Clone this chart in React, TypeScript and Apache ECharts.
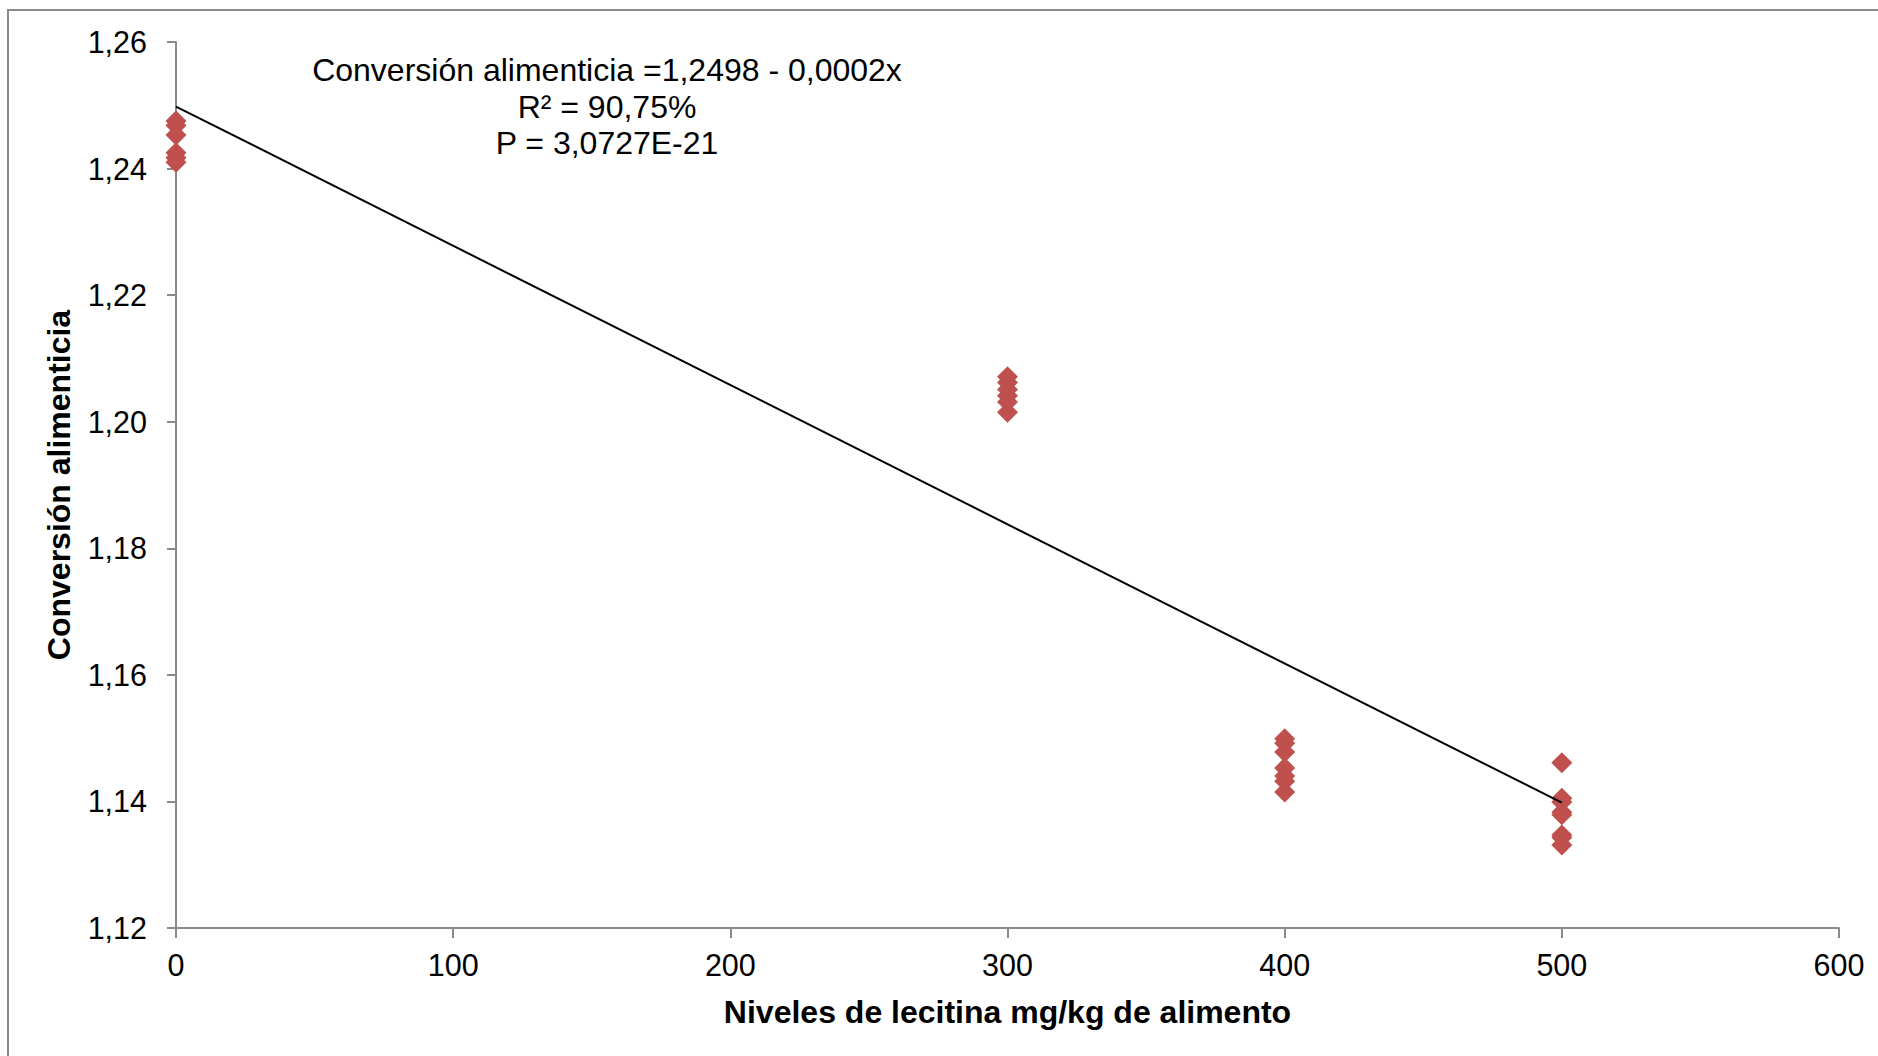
import React, { useEffect, useRef } from "react";
import * as echarts from "echarts";

const xTicks = [0, 100, 200, 300, 400, 500, 600];
const yTicks = [1.12, 1.14, 1.16, 1.18, 1.2, 1.22, 1.24, 1.26];

const level0 = [1.2475, 1.2468, 1.2453, 1.2425, 1.2417, 1.241];
const level300 = [1.2071, 1.2062, 1.2051, 1.2041, 1.2031, 1.2015];
const level400 = [1.1499, 1.1492, 1.1478, 1.1453, 1.144, 1.1432, 1.1415];
const level500 = [1.1461, 1.1405, 1.1399, 1.1383, 1.1379, 1.1347, 1.1343, 1.1331];

const trendX = [0, 500];
const trendY = [1.2498, 1.1398];

const equationLines = [
  "Conversión alimenticia =1,2498 - 0,0002x",
  "R² = 90,75%",
  "P = 3,0727E-21",
];

const xTitle = "Niveles de lecitina mg/kg de alimento";
const yTitle = "Conversión alimenticia";

const FONT = "'Liberation Sans', Arial, sans-serif";

export default function App() {
  const ref = useRef<HTMLDivElement>(null);
  useEffect(() => {
    if (!ref.current) return;
    const chart = echarts.init(ref.current, null, { renderer: "svg" });
    const points: number[][] = [];
    const groups: [number, number[]][] = [
      [0, level0],
      [300, level300],
      [400, level400],
      [500, level500],
    ];
    groups.forEach(([x, vals]) => vals.forEach((v) => points.push([x, v])));
    const trend = trendX.map((x, i) => [x, trendY[i]]);
    const axisColor = "#8a8a8a";
    chart.setOption({
      animation: false,
      backgroundColor: "#ffffff",
      textStyle: { fontFamily: FONT },
      grid: { left: 176, top: 42, right: 39, bottom: 128, containLabel: false },
      xAxis: {
        type: "value",
        min: xTicks[0],
        max: xTicks[xTicks.length - 1],
        interval: 100,
        name: xTitle,
        nameLocation: "middle",
        nameGap: 68,
        nameTextStyle: { fontFamily: FONT, fontSize: 32, fontWeight: "bold", color: "#000" },
        axisLine: { show: true, onZero: false, lineStyle: { color: axisColor, width: 2 } },
        axisTick: { show: true, length: 10, lineStyle: { color: axisColor, width: 2 } },
        axisLabel: { fontFamily: FONT, fontSize: 30.5, color: "#000", margin: 21 },
        splitLine: { show: false },
      },
      yAxis: {
        type: "value",
        min: yTicks[0],
        max: yTicks[yTicks.length - 1],
        interval: 0.02,
        name: yTitle,
        nameLocation: "middle",
        nameGap: 101,
        nameRotate: 90,
        nameTextStyle: { fontFamily: FONT, fontSize: 32, fontWeight: "bold", color: "#000" },
        axisLine: { show: true, lineStyle: { color: axisColor, width: 2 } },
        axisTick: { show: true, length: 9, lineStyle: { color: axisColor, width: 2 } },
        axisLabel: {
          fontFamily: FONT,
          fontSize: 30.5,
          color: "#000",
          margin: 29,
          formatter: (v: number) => v.toFixed(2).replace(".", ","),
        },
        splitLine: { show: false },
      },
      series: [
        {
          type: "scatter",
          data: points,
          symbol: "diamond",
          symbolSize: 21,
          itemStyle: { color: "#C0504D", opacity: 1 },
          z: 2,
        },
        {
          type: "line",
          data: trend,
          symbol: "none",
          lineStyle: { color: "#000", width: 2 },
          z: 3,
        },
      ],
      graphic: [
        {
          type: "rect",
          shape: { x: 8, y: 10, width: 1900, height: 1100 },
          style: { fill: "none", stroke: axisColor, lineWidth: 2 },
          silent: true,
        },
        ...equationLines.map((t, i) => ({
          type: "text",
          x: 607,
          y: 70 + i * 36.5,
          style: {
            text: t,
            fontFamily: FONT,
            fontSize: 32,
            fill: "#000",
            align: "center",
            verticalAlign: "middle",
          },
        })),
      ],
    });
    return () => chart.dispose();
  }, []);
  return (
    <div
      ref={ref}
      style={{ position: "fixed", left: 0, top: 0, width: 1878, height: 1056, background: "#fff" }}
    />
  );
}
